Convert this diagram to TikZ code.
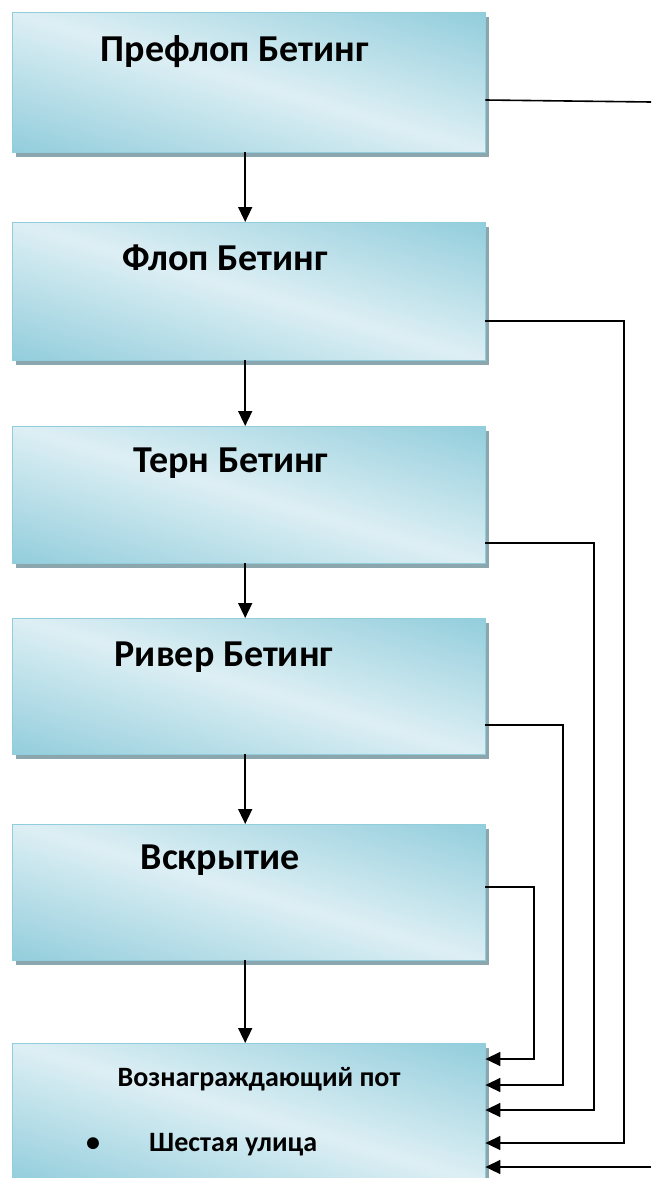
\documentclass[tikz,border=0pt]{standalone}
\usepackage{fontspec}
\setmainfont{Carlito}
\usetikzlibrary{arrows.meta,shadows,calc}
\definecolor{bdark}{RGB}{146,205,220}
\definecolor{blight}{RGB}{221,239,244}
\definecolor{shgrey}{RGB}{140,166,174}
\newcommand\boxshade[1]{%
  \begin{scope}
    \clip (#1.north west) rectangle (#1.south east);
    \shade[top color=bdark, bottom color=bdark, middle color=blight,
      transform canvas={shift={(#1.center)}, rotate=-16.5}]
      (-330,-134) rectangle (330,134);
  \end{scope}
  \draw[bdark, line width=0.8pt] (#1.north west) rectangle (#1.south east);}
\begin{document}
\begin{tikzpicture}[x=1pt,y=-1pt,
  box/.style={fill=blight,
    minimum width=473pt, minimum height=#1,
    inner sep=0pt, anchor=north west,
    general shadow={fill=shgrey, shadow xshift=4pt, shadow yshift=-5pt}},
  ttl/.style={font=\bfseries\fontsize{38}{44}\selectfont, inner sep=0pt},
  sub/.style={font=\bfseries\fontsize{28}{32}\selectfont, inner sep=0pt},
  conn/.style={line width=1.6pt},
  arr/.style={line width=1.6pt, -{Triangle[length=15pt,width=14pt]}}]
\useasboundingbox (0,0) rectangle (651,1178);
\clip (0,0) rectangle (651,1178);
\fill[white] (0,0) rectangle (651,1178);

\node[box=140pt] (b1) at (12,12) {};
\node[box=138pt] (b2) at (12,222) {};
\node[box=137pt] (b3) at (12,426) {};
\node[box=136pt] (b4) at (12,618) {};
\node[box=136pt] (b5) at (12,824) {};
\node[box=140pt] (b6) at (12,1043) {};
\boxshade{b1}\boxshade{b2}\boxshade{b3}\boxshade{b4}\boxshade{b5}\boxshade{b6}

\node[ttl] (t1) at (235,52) {Префлоп Бетинг};
\node[ttl] (t2) at (225,258) {Флоп Бетинг};
\node[ttl] (t3) at (231,463) {Терн Бетинг};
\node[ttl] (t4) at (224,657) {Ривер Бетинг};
\node[ttl] (t5) at (220,860) {Вскрытие};
\node[sub] (t6) at (259,1079) {Вознаграждающий пот};
\node[sub] (bul) at (93,1145) {•};
\node[sub, anchor=west] (t7) at (149,1145) {Шестая улица};

\coordinate (r1) at (651,102);
\coordinate (r6) at (651,1167);

\draw[arr] ([xshift=-3.5pt]b1.south) -- ([xshift=-3.5pt]b2.north);
\draw[arr] ([xshift=-3.5pt]b2.south) -- ([xshift=-3.5pt]b3.north);
\draw[arr] ([xshift=-3.5pt]b3.south) -- ([xshift=-3.5pt]b4.north);
\draw[arr] ([xshift=-3.5pt]b4.south) -- ([xshift=-3.5pt]b5.north);
\draw[arr] ([xshift=-3.5pt]b5.south) -- ([xshift=-3.5pt]b6.north);

\draw[conn] ([yshift=-88pt]b1.north east) -- (r1);
\draw[arr] ([yshift=-99pt]b2.north east) -| (624,1143) -- ([yshift=-100pt]b6.north east);
\draw[arr] ([yshift=-117pt]b3.north east) -| (594,1110) -- ([yshift=-67pt]b6.north east);
\draw[arr] ([yshift=-107pt]b4.north east) -| (563,1085) -- ([yshift=-42pt]b6.north east);
\draw[arr] ([yshift=-63pt]b5.north east) -| (534,1059) -- ([yshift=-16pt]b6.north east);
\draw[arr] (r6) -- ([yshift=-124pt]b6.north east);
\end{tikzpicture}
\end{document}
